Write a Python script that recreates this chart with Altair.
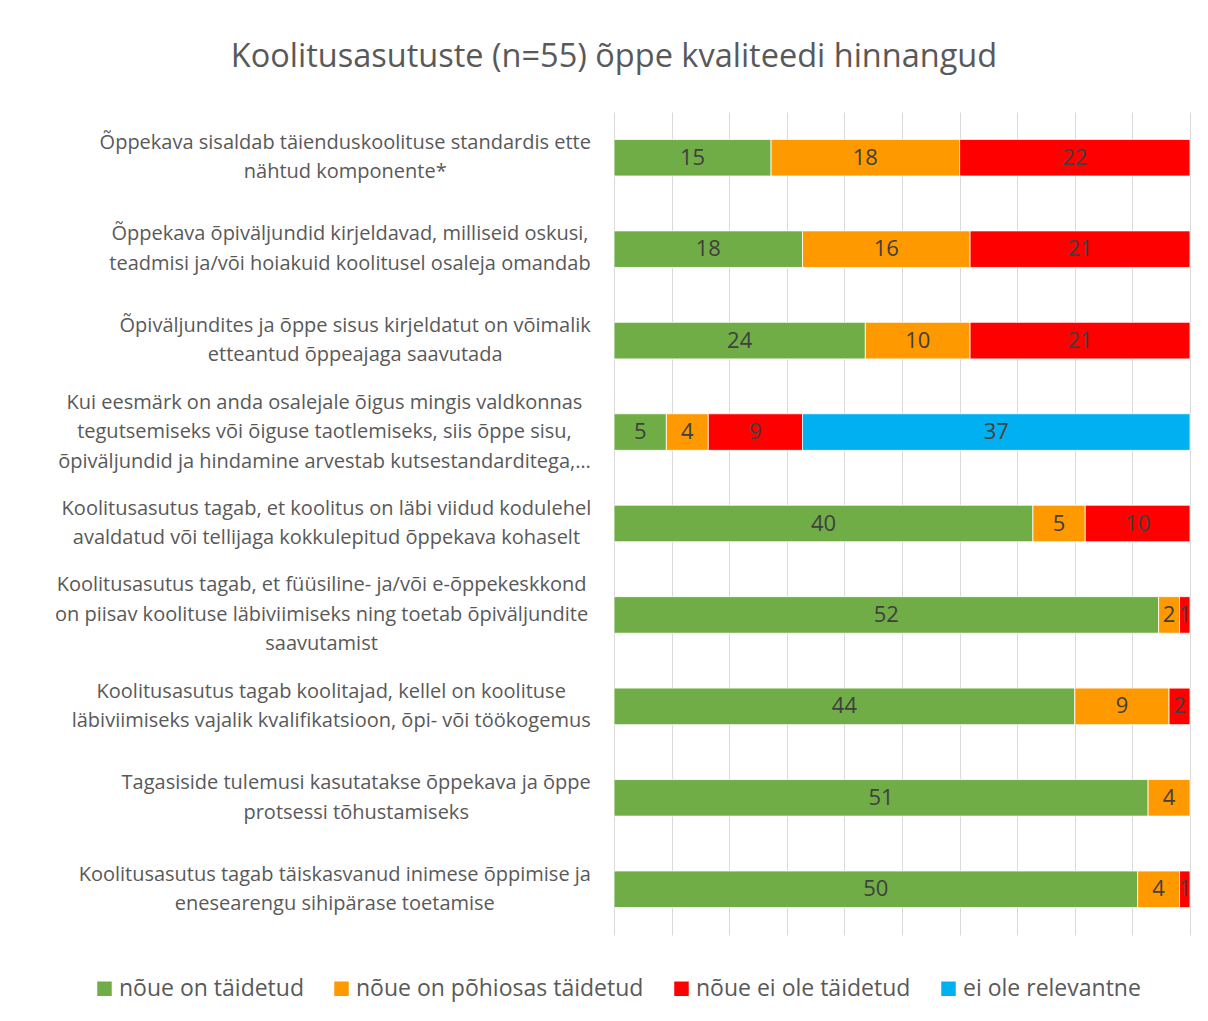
import altair as alt
import pandas as pd

title_text = "Koolitusasutuste (n=55) õppe kvaliteedi hinnangud"

categories = [
    "Õppekava sisaldab täienduskoolituse standardis ette\nnähtud komponente*",
    "Õppekava õpiväljundid kirjeldavad, milliseid oskusi,\nteadmisi ja/või hoiakuid koolitusel osaleja omandab",
    "Õpiväljundites ja õppe sisus kirjeldatut on võimalik\netteantud õppeajaga saavutada",
    "Kui eesmärk on anda osalejale õigus mingis valdkonnas\ntegutsemiseks või õiguse taotlemiseks, siis õppe sisu,\nõpiväljundid ja hindamine arvestab kutsestandarditega,…",
    "Koolitusasutus tagab, et koolitus on läbi viidud kodulehel\navaldatud või tellijaga kokkulepitud õppekava kohaselt",
    "Koolitusasutus tagab, et füüsiline- ja/või e-õppekeskkond\non piisav koolituse läbiviimiseks ning toetab  õpiväljundite\nsaavutamist",
    "Koolitusasutus tagab koolitajad, kellel on koolituse\nläbiviimiseks vajalik kvalifikatsioon, õpi- või töökogemus",
    "Tagasiside tulemusi kasutatakse õppekava ja õppe\nprotsessi tõhustamiseks",
    "Koolitusasutus tagab täiskasvanud inimese õppimise ja\nenesearengu sihipärase toetamise",
]

series = ["nõue on täidetud", "nõue on põhiosas täidetud", "nõue ei ole täidetud", "ei ole relevantne"]
met = [15, 18, 24, 5, 40, 52, 44, 51, 50]
mostly_met = [18, 16, 10, 4, 5, 2, 9, 4, 4]
not_met = [22, 21, 21, 9, 10, 1, 2, 0, 1]
not_relevant = [0, 0, 0, 37, 0, 0, 0, 0, 0]
colors = ["#70AD47", "#FF9900", "#FF0000", "#00B0F0"]

total = 55
grid_values = [total * i / 10 for i in range(11)]

# ---- build table ----
rows = []
for ci, cat in enumerate(categories):
    for si, vals in enumerate([met, mostly_met, not_met, not_relevant]):
        if vals[ci] > 0:
            rows.append({"cat": cat, "series": series[si], "order": si, "value": vals[ci]})
df = pd.DataFrame(rows)

# ---- approximate text width (Open Sans advance widths, units/2048) for centring label blocks ----
W = {" ": 532, "a": 1139, "b": 1255, "c": 975, "d": 1255, "e": 1149, "f": 694, "g": 1122, "h": 1257,
     "i": 518, "j": 518, "k": 1075, "l": 518, "m": 1905, "n": 1257, "o": 1237, "p": 1255, "q": 1255,
     "r": 836, "s": 977, "t": 723, "u": 1257, "v": 1026, "w": 1593, "x": 1073, "y": 1028, "z": 981,
     "A": 1296, "B": 1327, "C": 1292, "D": 1493, "E": 1139, "F": 1057, "G": 1491, "H": 1511, "I": 571,
     "J": 547, "K": 1208, "L": 1063, "M": 1849, "N": 1544, "O": 1595, "P": 1233, "Q": 1595, "R": 1266,
     "S": 1124, "T": 1133, "U": 1491, "V": 1219, "W": 1896, "X": 1182, "Y": 1147, "Z": 1169,
     ",": 500, ".": 545, "-": 659, "/": 752, "*": 1120, "…": 1636, "(": 604, ")": 604}
BASE = {"õ": "o", "ö": "o", "ä": "a", "ü": "u", "Õ": "O", "Ö": "O", "Ä": "A", "Ü": "U", "š": "s", "ž": "z"}
LABEL_SIZE = 20
LINE_H = 29.5


def text_width(s, size):
    return sum(W.get(BASE.get(ch, ch), 1171) for ch in s) / 2048 * size


labels_df = pd.DataFrame({
    "cat": categories,
    "n": [len(c.split("\n")) for c in categories],
    "w": [max(text_width(line, LABEL_SIZE) for line in c.split("\n")) for c in categories],
})

font = "Open Sans"
y_enc = alt.Y("cat:N", sort=categories, axis=None,
              scale=alt.Scale(paddingInner=0.6, paddingOuter=0.3))

base = alt.Chart(df).transform_stack(
    stack="value", groupby=["cat"], as_=["x0", "x1"],
    sort=[alt.SortField("order", order="ascending")]
)

bars = base.mark_bar(stroke="white", strokeWidth=0.8).encode(
    x=alt.X("x0:Q", scale=alt.Scale(domain=[0, total], nice=False, zero=True),
            axis=alt.Axis(values=grid_values, grid=True, gridColor="#D9D9D9", gridWidth=1,
                          labels=False, ticks=False, domain=False, title=None)),
    x2="x1:Q",
    y=y_enc,
    color=alt.Color("series:N", scale=alt.Scale(domain=series, range=colors),
                    legend=alt.Legend(title=None, orient="none", direction="horizontal",
                                      legendX=-521, legendY=865, symbolType="square",
                                      symbolSize=210, symbolStrokeWidth=0,
                                      labelFont=font, labelFontSize=23, labelColor="#595959",
                                      labelOffset=3, columnPadding=26, labelLimit=0)),
)

values_text = base.transform_calculate(mid="(datum.x0 + datum.x1) / 2").mark_text(
    font=font, fontSize=22, color="#404040", baseline="middle", align="center"
).encode(
    x=alt.X("mid:Q"),
    y=y_enc,
    text=alt.Text("value:Q"),
)

cat_layers = []
for n in sorted(set(labels_df["n"])):
    cat_layers.append(
        alt.Chart(labels_df).transform_filter(f"datum.n == {n}")
        .transform_calculate(lx="-23 - datum.w / 2")
        .mark_text(font=font, fontSize=LABEL_SIZE, color="#595959", align="center",
                   baseline="middle", lineBreak="\n", lineHeight=LINE_H,
                   dy=-(n - 1) * LINE_H / 2)
        .encode(
            x=alt.X("lx:Q", scale=None, axis=None),
            y=y_enc,
            text="cat:N",
        )
    )

chart = alt.layer(bars, values_text, *cat_layers).properties(
    width=576, height=823,
    background="white",
    title=alt.TitleParams(title_text, font=font, fontSize=32.5, fontWeight="normal", color="#595959",
                          anchor="middle", frame="group", dx=-288, offset=13, baseline="alphabetic"),
    autosize=alt.AutoSizeParams(type="none"),
    padding={"left": 606, "top": 104, "right": 10, "bottom": 72},
).configure_view(stroke=None)

chart.save("out.html", embed_options={"renderer": "svg", "actions": False})
